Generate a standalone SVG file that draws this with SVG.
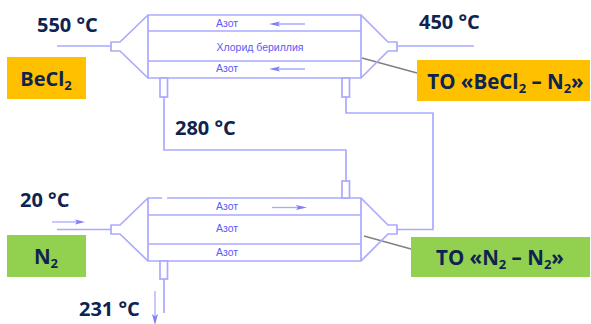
<svg xmlns="http://www.w3.org/2000/svg" width="591" height="324" viewBox="0 0 591 324">
<defs>
<style>
.l{fill:none;stroke:#aaaaff;stroke-width:1.7;stroke-linejoin:round}
.a{fill:none;stroke:#aaaaff;stroke-width:1.3}
.h{fill:#8080f8;stroke:none}
.s{fill:#fff;stroke:#aaaaff;stroke-width:1.7}
.lead{stroke:#808080;stroke-width:1.4;fill:none}
.t{font-family:"Open Sans",sans-serif;font-weight:700;fill:#0e2350;font-size:20px}
.b{font-family:"Open Sans",sans-serif;font-weight:700;fill:#0e2350;font-size:20.500px;text-anchor:middle}
.r{font-family:"Liberation Sans",sans-serif;fill:#5a5af5;font-size:10.500px;text-anchor:middle}
</style>
</defs>
<g id="connectors">
<path class="l" d="M57 46H111M397 46H474"/>
<path class="l" d="M164 97V150H346V181"/>
<path class="l" d="M346 97V113H433V229.500H397"/>
<path class="l" d="M57 229.500H111"/>
<path class="l" d="M164 279V313"/>
<path class="a" d="M52 222H82"/><path class="h" d="M85 222L75 219.500L77 222L75 224.500Z"/>
<path class="a" d="M155 291V322"/><path class="h" d="M155 325L152 314L155 316.500L158 314Z"/>
<path class="lead" d="M362 58L417 73"/>
<path class="lead" d="M364 236L411 249"/>
</g>
<g id="exchanger-top">
<path class="l" d="M148 15H361V78H148ZM148 31H361M148 61H361"/>
<path class="l" d="M148 15L120 42H111V51H120L148 78"/>
<path class="l" d="M361 15L388 42H397V51H388L361 78"/>
<rect class="s" x="160" y="78" width="7.500" height="19"/>
<rect class="s" x="342" y="78" width="7.500" height="19"/>
<text class="r" x="227" y="27">Азот</text>
<text class="r" x="260" y="51">Хлорид бериллия</text>
<text class="r" x="227" y="72">Азот</text>
<path class="a" d="M275 24H305M275 69H305"/>
<path class="h" d="M269 24L280 21.500L278 24L280 26.500ZM269 69L280 66.500L278 69L280 71.500Z"/>
</g>
<g id="exchanger-bottom">
<path class="l" d="M162 198H148V261H361V198H167M148 215H361M148 244H361"/>
<path class="l" d="M148 198L120 225H111V234H120L148 261"/>
<path class="l" d="M361 198L388 225H397V234H388L361 261"/>
<rect class="s" x="160" y="261" width="7.500" height="18"/>
<rect class="s" x="342" y="181" width="7.500" height="17"/>
<text class="r" x="227" y="210">Азот</text>
<text class="r" x="227" y="232">Азот</text>
<text class="r" x="227" y="255.500">Азот</text>
<path class="a" d="M272 207.500H303"/>
<path class="h" d="M307 207.500L296 205L298 207.500L296 210Z"/>
</g>
<g id="label-becl2"><rect x="7" y="57" width="79" height="42" fill="#ffc000"/><text class="b" x="46" y="85.500" style="font-size:20px">BeCl<tspan font-size="13" dy="4">2</tspan></text></g>
<g id="label-n2"><rect x="7" y="235" width="79" height="42" fill="#92d050"/><text class="b" x="46" y="264">N<tspan font-size="13" dy="4">2</tspan></text></g>
<g id="label-to-becl2"><rect x="417" y="60" width="173" height="41" fill="#ffc000"/><text class="b" x="505.500" y="88.500">ТО «BeCl<tspan font-size="13" dy="4">2</tspan><tspan dy="-4"> – N</tspan><tspan font-size="13" dy="4">2</tspan><tspan dy="-4">»</tspan></text></g>
<g id="label-to-n2"><rect x="411" y="237" width="179" height="40" fill="#92d050"/><text class="b" x="500" y="265">ТО «N<tspan font-size="13" dy="4">2</tspan><tspan dy="-4"> – N</tspan><tspan font-size="13" dy="4">2</tspan><tspan dy="-4">»</tspan></text></g>
<g id="temps">
<text class="t" x="37" y="32">550 °C</text>
<text class="t" x="419" y="29">450 °C</text>
<text class="t" x="175" y="135">280 °C</text>
<text class="t" x="20" y="207">20 °C</text>
<text class="t" x="79" y="316">231 °C</text>
</g>
</svg>
